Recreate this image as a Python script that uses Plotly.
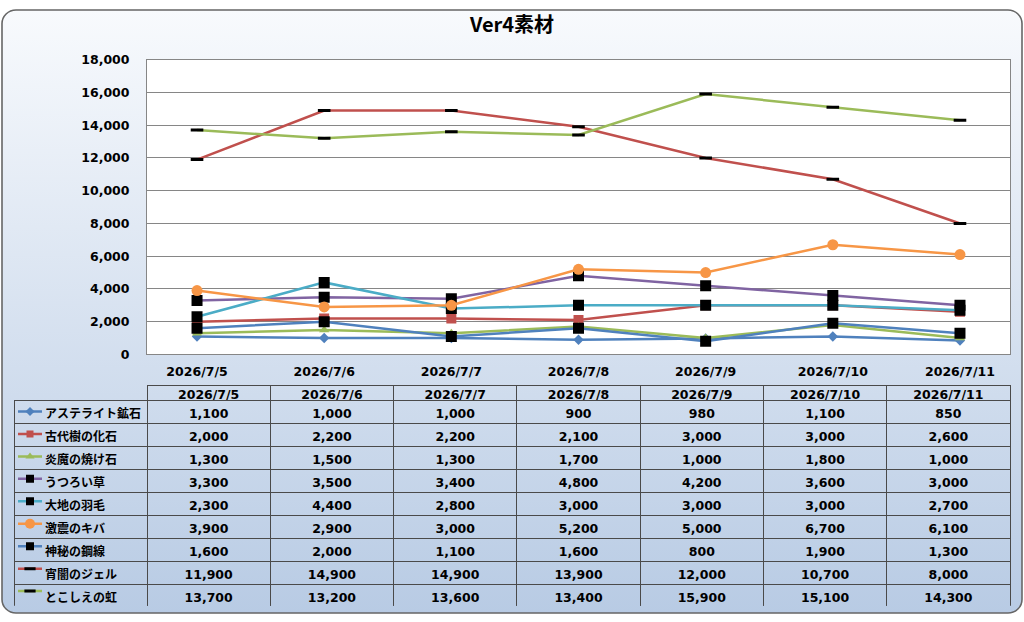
import base64
import plotly.graph_objects as go

# --------------------------
# Data
# --------------------------
dates = ["2026/7/5", "2026/7/6", "2026/7/7", "2026/7/8", "2026/7/9", "2026/7/10", "2026/7/11"]

names = [
    "アステライト鉱石",
    "古代樹の化石",
    "炎魔の焼け石",
    "うつろい草",
    "大地の羽毛",
    "激震のキバ",
    "神秘の鋼線",
    "宵闇のジェル",
    "とこしえの虹",
]

asterite = [1100, 1000, 1000, 900, 980, 1100, 850]
kodaiju = [2000, 2200, 2200, 2100, 3000, 3000, 2600]
enma = [1300, 1500, 1300, 1700, 1000, 1800, 1000]
utsuroi = [3300, 3500, 3400, 4800, 4200, 3600, 3000]
daichi = [2300, 4400, 2800, 3000, 3000, 3000, 2700]
gekishin = [3900, 2900, 3000, 5200, 5000, 6700, 6100]
shinpi = [1600, 2000, 1100, 1600, 800, 1900, 1300]
yoiyami = [11900, 14900, 14900, 13900, 12000, 10700, 8000]
tokoshie = [13700, 13200, 13600, 13400, 15900, 15100, 14300]

series = [asterite, kodaiju, enma, utsuroi, daichi, gekishin, shinpi, yoiyami, tokoshie]

y_ticks = [0, 2000, 4000, 6000, 8000, 10000, 12000, 14000, 16000, 18000]

# --------------------------
# Styles
# --------------------------
W, H = 1024, 622
FONT = "DejaVu Sans, Noto Sans CJK JP"
JP_FONT = "Noto Sans CJK JP"
TXT = dict(family=FONT, size=12.5, color="#000000", weight="bold")

# (line colour, symbol, fill, marker size, legend marker size, marker line width)
STYLES = [
    ("#4f81bd", "diamond", "#4f81bd", 8, 7, 0),
    ("#c0504d", "square", "#c0504d", 10, 7, 0),
    ("#9bbb59", "triangle-up", "#9bbb59", 9, 8, 0),
    ("#8064a2", "square", "#000000", 11, 8, 0),
    ("#4bacc6", "square", "#000000", 11, 8, 0),
    ("#f79646", "circle", "#f79646", 11, 10, 0),
    ("#4f81bd", "square", "#000000", 11, 8, 0),
    ("#c0504d", "line-ew", "#000000", 9, 8, 3),
    ("#9bbb59", "line-ew", "#000000", 9, 8, 3),
]

# plot area / table geometry in pixels
PX0, PX1, PY0, PY1 = 147, 1010, 53, 355
TX0 = 14
T_TOP, HEAD_H, ROW_H = 387, 15, 23
ROWS_TOP = T_TOP + HEAD_H

fig = go.Figure()

# main lines
for name, vals, st in zip(names, series, STYLES):
    color, sym, fill, msize, _, mlw = st
    fig.add_trace(
        go.Scatter(
            x=dates,
            y=vals,
            name=name,
            mode="lines+markers",
            line=dict(color=color, width=2.5),
            marker=dict(
                symbol=sym,
                size=msize,
                color=fill,
                line=dict(color="#000000" if mlw else fill, width=mlw),
            ),
            showlegend=False,
            xaxis="x",
            yaxis="y",
        )
    )

# header row of the data table: an empty trace so xaxis2 draws the date labels
fig.add_trace(
    go.Scatter(
        x=dates,
        y=[0] * len(dates),
        mode="none",
        showlegend=False,
        hoverinfo="skip",
        xaxis="x2",
        yaxis="y2",
    )
)

# legend keys in the first column of the data table
n = len(names)
for i, st in enumerate(STYLES):
    color, sym, fill, _, lsize, mlw = st
    fig.add_trace(
        go.Scatter(
            x=[18, 42],
            y=[i + 0.5, i + 0.5],
            mode="lines",
            line=dict(color=color, width=2.5),
            showlegend=False,
            hoverinfo="skip",
            xaxis="x3",
            yaxis="y3",
        )
    )
    fig.add_trace(
        go.Scatter(
            x=[30],
            y=[i + 0.5],
            mode="markers",
            marker=dict(
                symbol=sym,
                size=lsize,
                color=fill,
                line=dict(color="#000000" if mlw else fill, width=mlw),
            ),
            showlegend=False,
            hoverinfo="skip",
            xaxis="x3",
            yaxis="y3",
        )
    )

# data table
pad = "\u3000\u00a0\u00a0\u00a0\u00a0"
col_w = [PX0 - TX0] + [(PX1 - PX0) / len(dates)] * len(dates)
cells = [[pad + nm for nm in names]]
for j in range(len(dates)):
    cells.append([f"{s[j]:,}" for s in series])

fig.add_trace(
    go.Table(
        domain=dict(
            x=[TX0 / W, PX1 / W],
            y=[1 - (ROWS_TOP + n * ROW_H + 4) / H, 1 - T_TOP / H],
        ),
        columnwidth=col_w,
        header=dict(
            values=[""] * (len(dates) + 1),
            height=HEAD_H,
            fill_color="rgba(0,0,0,0)",
            line=dict(color=["rgba(0,0,0,0)"] + ["#4a4a4a"] * len(dates), width=1),
            font=TXT,
        ),
        cells=dict(
            values=cells,
            height=ROW_H,
            align=["left"] + ["center"] * len(dates),
            fill_color="rgba(0,0,0,0)",
            line=dict(color="#4a4a4a", width=1),
            font=dict(
                family=[JP_FONT] + [FONT] * len(dates),
                size=[12] + [12.5] * len(dates),
                color="#000000",
                weight="bold",
            ),
        ),
    )
)

# rounded gradient panel behind everything
svg = (
    f"<svg xmlns='http://www.w3.org/2000/svg' width='{W}' height='{H}'>"
    "<defs><linearGradient id='g' x1='0' y1='0' x2='0' y2='1'>"
    "<stop offset='0' stop-color='#f8fafd'/><stop offset='1' stop-color='#b8cbe4'/>"
    "</linearGradient></defs>"
    f"<rect x='2' y='2' width='{W - 4}' height='{H - 4}' rx='14' ry='14' "
    "fill='url(#g)' stroke='#666666' stroke-width='1.6'/></svg>"
)
bg_src = "data:image/svg+xml;base64," + base64.b64encode(svg.encode()).decode()

fig.update_layout(
    width=W,
    height=H,
    margin=dict(l=0, r=0, t=0, b=0),
    paper_bgcolor="#ffffff",
    plot_bgcolor="rgba(0,0,0,0)",
    font=TXT,
    title=dict(
        text="Ver4素材",
        x=0.5,
        xanchor="center",
        y=1 - 25 / H,
        yanchor="middle",
        font=dict(family=JP_FONT, size=20, color="#000000", weight="bold"),
    ),
    images=[
        dict(
            source=bg_src,
            xref="paper",
            yref="paper",
            x=0,
            y=1,
            sizex=1,
            sizey=1,
            sizing="stretch",
            xanchor="left",
            yanchor="top",
            layer="below",
        )
    ],
    shapes=[
        dict(
            type="rect",
            xref="x domain",
            yref="y domain",
            x0=0,
            x1=1,
            y0=0,
            y1=1,
            fillcolor="#ffffff",
            line=dict(width=0),
            layer="below",
        )
    ],
    xaxis=dict(
        domain=[PX0 / W, PX1 / W],
        type="category",
        categoryorder="array",
        categoryarray=dates,
        showgrid=False,
        showline=True,
        linecolor="#868686",
        linewidth=1,
        mirror=True,
        ticks="",
        ticklabelstandoff=6,
        tickfont=TXT,
        fixedrange=True,
    ),
    yaxis=dict(
        domain=[1 - PY1 / H, 1 - PY0 / H],
        range=[0, 18000],
        tickvals=y_ticks,
        tickformat=",d",
        showgrid=True,
        gridcolor="#868686",
        gridwidth=1,
        showline=True,
        linecolor="#868686",
        linewidth=1,
        mirror=True,
        zeroline=False,
        ticks="",
        ticklabelstandoff=14,
        tickfont=TXT,
        fixedrange=True,
    ),
    # header row labels of the data table
    xaxis2=dict(
        domain=[PX0 / W, PX1 / W],
        anchor="free",
        position=1 - T_TOP / H,
        type="category",
        categoryorder="array",
        categoryarray=dates,
        range=[-0.5, len(dates) - 0.5],
        showgrid=False,
        zeroline=False,
        showline=False,
        ticks="",
        ticklabelstandoff=0,
        tickfont=TXT,
        fixedrange=True,
    ),
    yaxis2=dict(
        domain=[1 - ROWS_TOP / H, 1 - T_TOP / H],
        visible=False,
        fixedrange=True,
    ),
    xaxis3=dict(
        domain=[TX0 / W, PX0 / W],
        range=[TX0, PX0],
        visible=False,
        fixedrange=True,
    ),
    yaxis3=dict(
        domain=[1 - (ROWS_TOP + n * ROW_H) / H, 1 - ROWS_TOP / H],
        range=[n, 0],
        visible=False,
        fixedrange=True,
    ),
)

fig.write_html(
    "out.html",
    config={"displayModeBar": False},
    post_script="document.body.style.margin='0';",
)
